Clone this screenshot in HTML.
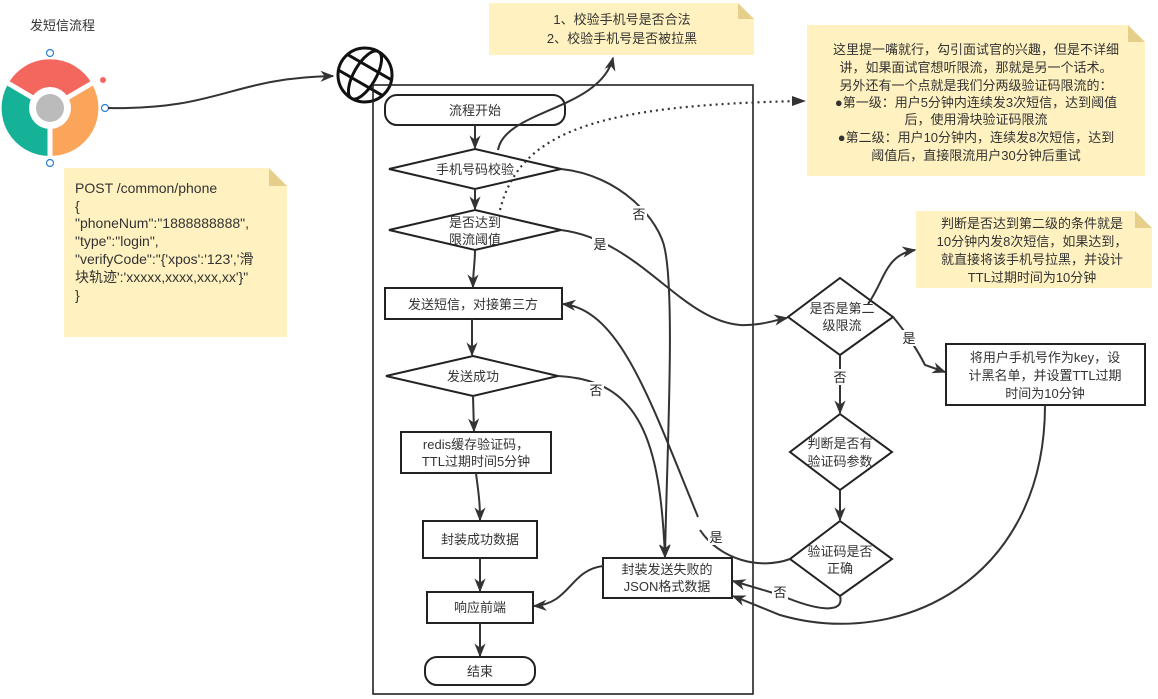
<!DOCTYPE html>
<html><head><meta charset="utf-8"><style>
body{margin:0;background:#fff;}
svg{display:block;font-family:"Liberation Sans","Noto Sans CJK SC",sans-serif;}
</style></head><body>
<svg width="1158" height="699" viewBox="0 0 1158 699" xmlns="http://www.w3.org/2000/svg">
<defs>
<marker id="b" viewBox="0 0 10 10" refX="9" refY="5" markerWidth="14" markerHeight="14" orient="auto" markerUnits="userSpaceOnUse"><path d="M0,1 L10,5 L0,9 L3,5 z" fill="#333"/></marker>
<clipPath id="gc"><circle cx="365" cy="75" r="27"/></clipPath>
</defs>
<rect width="1158" height="699" fill="#fff"/>
<text x="30" y="30" font-size="13" fill="#333">发短信流程</text>

<!-- chrome icon -->
<g transform="translate(50,108)">
<path d="M0,0 L-42,-24 A48,48 0 0 1 42,-24 Z" fill="#f4675f"/>
<path d="M0,0 L42,-24 A48,48 0 0 1 0,48 Z" fill="#fba55a"/>
<path d="M0,0 L0,48 A48,48 0 0 1 -42,-24 Z" fill="#16b297"/>
<path d="M0,0 L-44,-26 M0,0 L44,-26 M0,0 L0,50" stroke="#fff" stroke-width="5"/>
<circle r="21" fill="#fff"/>
<circle r="14" fill="#bbb"/>
</g>
<circle cx="50" cy="53" r="3.5" fill="#fff" stroke="#2a7fd4" stroke-width="1.2"/>
<circle cx="105" cy="108" r="3.5" fill="#fff" stroke="#2a7fd4" stroke-width="1.2"/>
<circle cx="50" cy="163" r="3.5" fill="#fff" stroke="#2a7fd4" stroke-width="1.2"/>
<circle cx="103" cy="80" r="3" fill="#f4675f"/>
<path d="M108,108 C220,110 230,78 333,76" fill="none" stroke="#333" stroke-width="2" marker-end="url(#b)"/>

<!-- globe -->
<g fill="none" stroke="#111" stroke-width="3">
<circle cx="365" cy="75" r="27"/>
<g clip-path="url(#gc)" transform="rotate(30 365 75)">
<ellipse cx="365" cy="75" rx="11" ry="27"/>
<line x1="336" y1="66" x2="394" y2="66"/>
<line x1="336" y1="84" x2="394" y2="84"/>
</g>
</g>

<!-- note 1 -->
<path d="M64,168 L269,168 L287,186 L287,337 L64,337 Z" fill="#fff2c0"/>
<path d="M269,168 L287,186 L269,186 Z" fill="#e5cf8a"/>
<g font-size="14" fill="#333">
<text x="75" y="193">POST /common/phone</text>
<text x="75" y="211">{</text>
<text x="75" y="228">"phoneNum":"1888888888",</text>
<text x="75" y="246">"type":"login",</text>
<text x="75" y="264">"verifyCode":"{'xpos':'123','滑</text>
<text x="75" y="282">块轨迹':'xxxxx,xxxx,xxx,xx'}"</text>
<text x="75" y="300">}</text>
</g>

<!-- note top -->
<path d="M489,3 L738,3 L754,19 L754,55 L489,55 Z" fill="#fff2c0"/>
<path d="M738,3 L754,19 L738,19 Z" fill="#e5cf8a"/>
<g font-size="13" fill="#333" text-anchor="middle">
<text x="622" y="24">1、校验手机号是否合法</text>
<text x="622" y="43">2、校验手机号是否被拉黑</text>
</g>

<!-- note right -->
<path d="M807,25 L1128,25 L1145,42 L1145,176 L807,176 Z" fill="#fff2c0"/>
<path d="M1128,25 L1145,42 L1128,42 Z" fill="#e5cf8a"/>
<g font-size="13" fill="#333" text-anchor="middle">
<text x="976" y="54">这里提一嘴就行，勾引面试官的兴趣，但是不详细</text>
<text x="976" y="72">讲，如果面试官想听限流，那就是另一个话术。</text>
<text x="976" y="90">另外还有一个点就是我们分两级验证码限流的：</text>
<text x="976" y="107">●第一级：用户5分钟内连续发3次短信，达到阈值</text>
<text x="976" y="124">后，使用滑块验证码限流</text>
<text x="976" y="142">●第二级：用户10分钟内，连续发8次短信，达到</text>
<text x="976" y="160">阈值后，直接限流用户30分钟后重试</text>
</g>

<!-- note right2 -->
<path d="M916,211 L1135,211 L1152,228 L1152,288 L916,288 Z" fill="#fff2c0"/>
<path d="M1135,211 L1152,228 L1135,228 Z" fill="#e5cf8a"/>
<g font-size="13" fill="#333" text-anchor="middle">
<text x="1032" y="228">判断是否达到第二级的条件就是</text>
<text x="1032" y="246">10分钟内发8次短信，如果达到，</text>
<text x="1032" y="264">就直接将该手机号拉黑，并设计</text>
<text x="1032" y="282">TTL过期时间为10分钟</text>
</g>

<!-- container -->
<rect x="373" y="85" width="380" height="609" fill="none" stroke="#222" stroke-width="1.6"/>

<g fill="#fff" stroke="#222" stroke-width="2">
<rect x="385" y="95" width="180" height="30" rx="12"/>
<path d="M475,149 L561,169 L475,189 L389,169 Z"/>
<path d="M475,210 L561,230 L475,250 L389,230 Z"/>
<rect x="385" y="288" width="177" height="31"/>
<path d="M473,356 L558,376 L473,396 L386,376 Z"/>
<rect x="401" y="432" width="150" height="41"/>
<rect x="423" y="521" width="114" height="37"/>
<rect x="427" y="592" width="106" height="31"/>
<rect x="425" y="657" width="110" height="28" rx="12"/>
<rect x="603" y="558" width="129" height="40"/>
<path d="M840,278 L893,317 L840,355 L788,317 Z"/>
<path d="M840,414 L892,452 L840,490 L790,452 Z"/>
<path d="M840,521 L892,559 L840,596 L790,559 Z"/>
<rect x="946" y="344" width="199" height="61"/>
</g>

<g font-size="13" fill="#333" text-anchor="middle">
<text x="475" y="115">流程开始</text>
<text x="475" y="174">手机号码校验</text>
<text x="475" y="227">是否达到</text>
<text x="475" y="244">限流阈值</text>
<text x="473" y="309">发送短信，对接第三方</text>
<text x="473" y="381">发送成功</text>
<text x="476" y="449">redis缓存验证码，</text>
<text x="476" y="466">TTL过期时间5分钟</text>
<text x="480" y="544">封装成功数据</text>
<text x="480" y="612">响应前端</text>
<text x="480" y="676">结束</text>
<text x="667" y="574">封装发送失败的</text>
<text x="667" y="591">JSON格式数据</text>
<text x="842" y="313">是否是第二</text>
<text x="842" y="330">级限流</text>
<text x="840" y="448">判断是否有</text>
<text x="840" y="466">验证码参数</text>
<text x="840" y="556">验证码是否</text>
<text x="840" y="573">正确</text>
<text x="1045" y="362">将用户手机号作为key，设</text>
<text x="1045" y="380">计黑名单，并设置TTL过期</text>
<text x="1045" y="398">时间为10分钟</text>
</g>

<!-- connectors -->
<g fill="none" stroke="#333" stroke-width="2">
<path d="M475,125 L475,148" marker-end="url(#b)"/>
<path d="M475,189 L475,209" marker-end="url(#b)"/>
<path d="M475,250 C475,265 473,270 473,287" marker-end="url(#b)"/>
<path d="M472,319 L472,355" marker-end="url(#b)"/>
<path d="M473,396 L474,431" marker-end="url(#b)"/>
<path d="M476,473 C478,490 480,500 480,520" marker-end="url(#b)"/>
<path d="M480,558 L480,591" marker-end="url(#b)"/>
<path d="M480,623 L480,656" marker-end="url(#b)"/>
<path d="M603,566 C570,570 570,604 534,606" marker-end="url(#b)"/>
<path d="M498,150 C505,110 600,110 613,58" marker-end="url(#b)"/>
<path d="M561,169 C620,175 660,220 665,250 C675,300 667,450 665,557" marker-end="url(#b)"/>
<path d="M558,376 C640,380 660,440 665,557" marker-end="url(#b)"/>
<path d="M561,230 C640,240 680,320 740,325 C760,326 775,320 787,318" marker-end="url(#b)"/>
<path d="M698,517 C650,400 620,310 563,304" marker-end="url(#b)"/>
<path d="M790,559 C760,570 720,560 700,530"/>
<path d="M840,355 L840,413" marker-end="url(#b)"/>
<path d="M840,490 L840,520" marker-end="url(#b)"/>
<path d="M840,596 C845,615 815,610 780,595 L733,581" marker-end="url(#b)"/>
<path d="M1045,405 C1045,580 900,650 780,615 L733,596" marker-end="url(#b)"/>
<path d="M893,317 C900,325 915,345 925,365 L945,372" marker-end="url(#b)"/>
<path d="M868,304 C885,280 885,255 915,250" marker-end="url(#b)"/>
</g>
<path d="M500,210 C520,130 600,105 802,101" fill="none" stroke="#333" stroke-width="2.2" stroke-dasharray="2,4"/>
<path d="M792,96 L806,101 L792,106 Z" fill="#333"/>

<g font-size="13" fill="#222" text-anchor="middle">
<rect x="631" y="206" width="16" height="16" fill="#fff"/><text x="639" y="219">否</text>
<rect x="592" y="236" width="16" height="16" fill="#fff"/><text x="600" y="249">是</text>
<rect x="588" y="382" width="16" height="16" fill="#fff"/><text x="596" y="395">否</text>
<rect x="708" y="529" width="16" height="16" fill="#fff"/><text x="716" y="542">是</text>
<rect x="772" y="584" width="16" height="16" fill="#fff"/><text x="780" y="597">否</text>
<rect x="832" y="369" width="16" height="16" fill="#fff"/><text x="840" y="382">否</text>
<rect x="901" y="330" width="16" height="16" fill="#fff"/><text x="909" y="343">是</text>
</g>
</svg>
</body></html>
